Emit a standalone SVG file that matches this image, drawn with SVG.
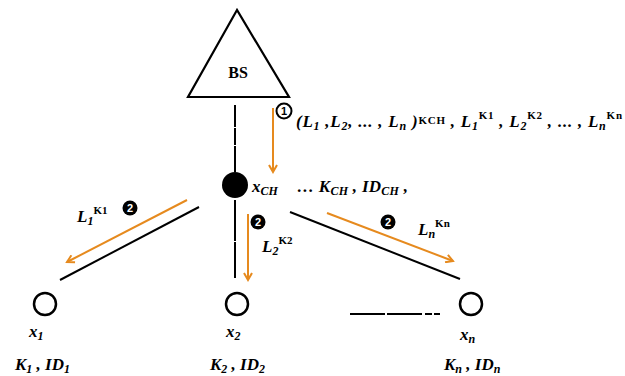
<svg xmlns="http://www.w3.org/2000/svg" width="625" height="376" viewBox="0 0 625 376">
<defs>
<style>
.ln{stroke:#000;stroke-width:2;fill:none}
.or{stroke:#E68A1E;stroke-width:2;fill:none}
.m{font-family:"Liberation Serif",serif;font-weight:bold;font-style:italic;font-size:17px;fill:#000}
.sub{font-size:12px}
.sup{font-size:11px;font-style:normal}
.c2{fill:#000}
.c2t{font-family:"Liberation Sans",sans-serif;font-weight:bold;font-size:11px;fill:#fff;text-anchor:middle}
.c1t{font-family:"Liberation Sans",sans-serif;font-weight:bold;font-size:11px;fill:#000;text-anchor:middle}
</style>
<marker id="ah" markerWidth="10" markerHeight="10" refX="8" refY="5" orient="auto" markerUnits="userSpaceOnUse">
<path d="M1,1 L8,5 L1,9" fill="none" stroke="#E68A1E" stroke-width="2"/>
</marker>
</defs>
<rect width="625" height="376" fill="#fff"/>

<g id="BS">
<polygon points="237,10 188,97 289,97" fill="#fff" stroke="#000" stroke-width="2.2"/>
<text x="238" y="78" text-anchor="middle" font-family="Liberation Serif,serif" font-weight="bold" font-size="16">BS</text>
</g>

<g id="CH">
<circle cx="235" cy="185" r="13" fill="#000"/>
<text class="m" x="252" y="192">x<tspan class="sub" dy="3">CH</tspan></text>
<text class="m" x="297" y="192" textLength="111">… K<tspan class="sub" dy="3">CH</tspan><tspan dy="-3"> , ID</tspan><tspan class="sub" dy="3">CH</tspan><tspan dy="-3"> ,</tspan></text>
</g>

<g id="x1">
<circle cx="45" cy="304" r="11" fill="#fff" stroke="#000" stroke-width="2.5"/>
<text class="m" x="29" y="337">x<tspan class="sub" dy="3">1</tspan></text>
<text class="m" x="15" y="370">K<tspan class="sub" dy="3">1</tspan><tspan dy="-3"> , ID</tspan><tspan class="sub" dy="3">1</tspan></text>
</g>

<g id="x2">
<circle cx="237" cy="304" r="11" fill="#fff" stroke="#000" stroke-width="2.5"/>
<text class="m" x="226" y="337">x<tspan class="sub" dy="3">2</tspan></text>
<text class="m" x="210" y="370">K<tspan class="sub" dy="3">2</tspan><tspan dy="-3"> , ID</tspan><tspan class="sub" dy="3">2</tspan></text>
</g>

<g id="xn">
<circle cx="471" cy="304" r="11" fill="#fff" stroke="#000" stroke-width="2.5"/>
<text class="m" x="460" y="340">x<tspan class="sub" dy="3">n</tspan></text>
<text class="m" x="444" y="370">K<tspan class="sub" dy="3">n</tspan><tspan dy="-3"> , ID</tspan><tspan class="sub" dy="3">n</tspan></text>
</g>

<g id="connectors">
<path class="ln" d="M235,105 V127 M235,128 V145 M235,146 V172" stroke-width="1.5"/>
<path class="ln" d="M235,200 V241 M235,242 V278" stroke-width="1.5"/>
<path class="ln" d="M60,280 L199,207"/>
<path class="ln" d="M290,212 L460,279"/>
<path class="ln" d="M350,314 H385 M387,314 H422 M425,314 H432 M434,314 H440"/>
<path class="or" d="M273,108 V172" marker-end="url(#ah)"/>
<path class="or" d="M187,200 L67,262" marker-end="url(#ah)"/>
<path class="or" d="M248,214 V280" marker-end="url(#ah)"/>
<path class="or" d="M327,213 L453,261" marker-end="url(#ah)"/>
</g>

<g id="labels">
<circle cx="284" cy="111" r="7.5" fill="#fff" stroke="#000" stroke-width="2"/>
<text class="c1t" x="284" y="115">1</text>
<text class="m" x="296" y="127" textLength="326" lengthAdjust="spacing">(L<tspan class="sub" dy="3">1</tspan><tspan dy="-3"> ,L</tspan><tspan class="sub" dy="3">2</tspan><tspan dy="-3">, ... , L</tspan><tspan class="sub" dy="3">n</tspan><tspan dy="-3"> )</tspan><tspan class="sup" dy="-3">KCH</tspan><tspan dy="3"> , L</tspan><tspan class="sub" dy="3">1</tspan><tspan class="sup" dy="-11">K1</tspan><tspan dy="8"> , L</tspan><tspan class="sub" dy="3">2</tspan><tspan class="sup" dy="-11">K2</tspan><tspan dy="8"> , ... , L</tspan><tspan class="sub" dy="3">n</tspan><tspan class="sup" dy="-11">Kn</tspan></text>

<circle class="c2" cx="130" cy="208" r="7.5"/>
<text class="c2t" x="130" y="212">2</text>
<text class="m" x="77" y="222">L<tspan class="sub" dy="3">1</tspan><tspan class="sup" dy="-11">K1</tspan></text>

<circle class="c2" cx="258" cy="222" r="7.5"/>
<text class="c2t" x="258" y="226">2</text>
<text class="m" x="262" y="252">L<tspan class="sub" dy="3">2</tspan><tspan class="sup" dy="-11">K2</tspan></text>

<circle class="c2" cx="388" cy="222" r="7.5"/>
<text class="c2t" x="388" y="226">2</text>
<text class="m" x="418" y="235">L<tspan class="sub" dy="3">n</tspan><tspan class="sup" dy="-11">Kn</tspan></text>
</g>
</svg>
